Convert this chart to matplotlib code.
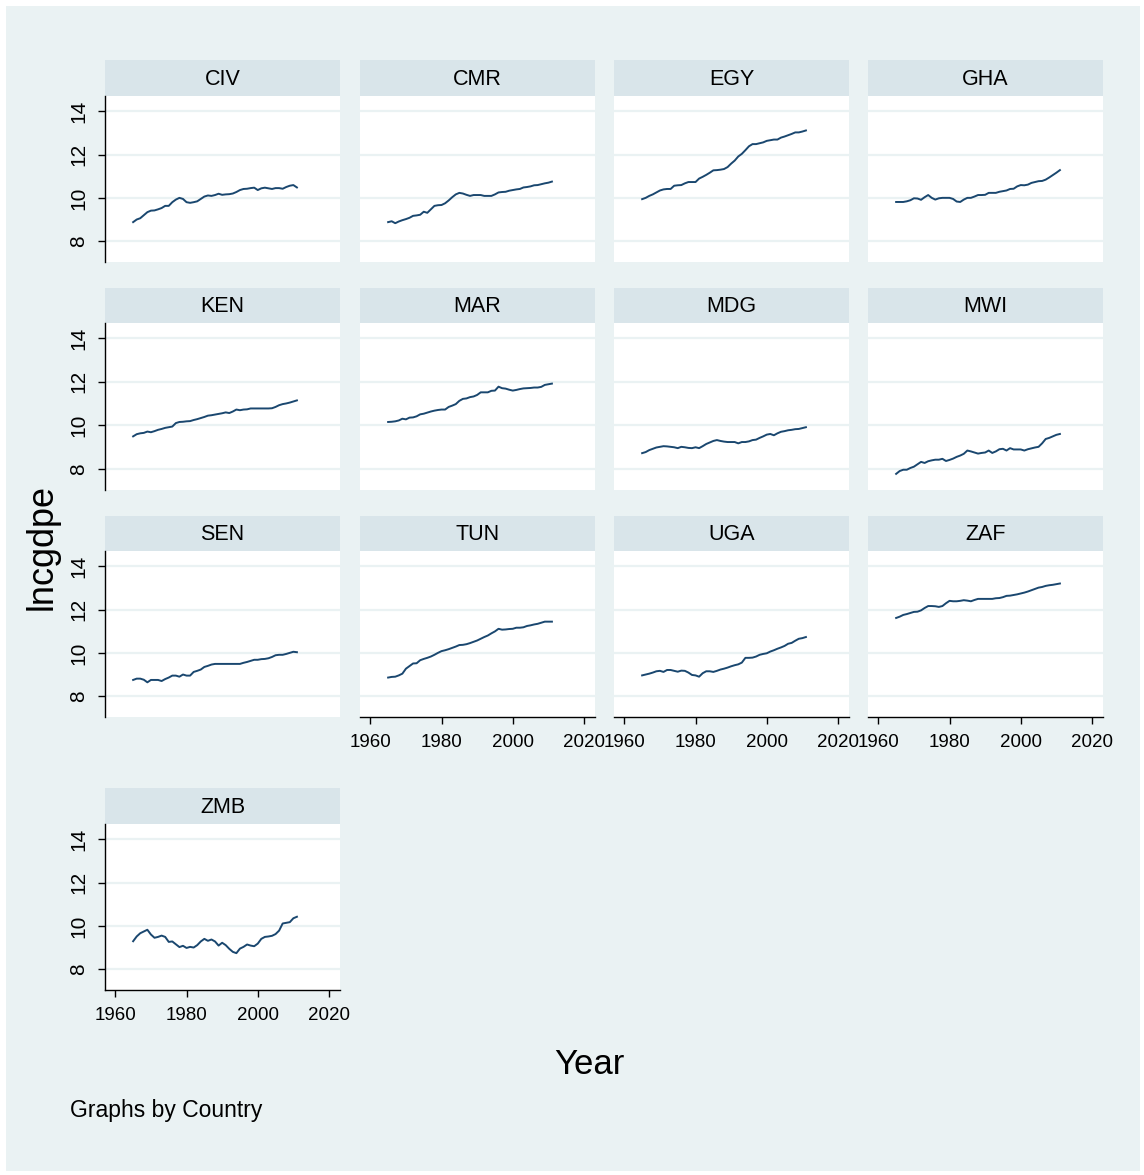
import matplotlib
matplotlib.use("Agg")
import matplotlib.pyplot as plt
from matplotlib.patches import Rectangle

FONT = ['Liberation Sans', 'DejaVu Sans']
BG = '#EAF2F3'
STRIP = '#D9E5EA'
LINE = '#1A476F'

years = list(range(1965, 2012))

countries = ['CIV', 'CMR', 'EGY', 'GHA', 'KEN', 'MAR', 'MDG', 'MWI', 'SEN', 'TUN', 'UGA', 'ZAF', 'ZMB']

civ = [8.88, 9.00, 9.06, 9.20, 9.34, 9.41, 9.42, 9.47, 9.53, 9.63, 9.63, 9.80, 9.92, 10.00, 9.95, 9.80,
       9.77, 9.80, 9.84, 9.95, 10.06, 10.11, 10.09, 10.13, 10.19, 10.14, 10.16, 10.17, 10.20, 10.27, 10.36,
       10.41, 10.42, 10.45, 10.47, 10.36, 10.44, 10.47, 10.44, 10.41, 10.45, 10.45, 10.42, 10.50, 10.56,
       10.59, 10.48]
cmr = [8.88, 8.92, 8.83, 8.91, 8.97, 9.02, 9.08, 9.17, 9.19, 9.22, 9.36, 9.31, 9.47, 9.63, 9.66, 9.67,
       9.75, 9.88, 10.03, 10.16, 10.23, 10.20, 10.14, 10.09, 10.13, 10.13, 10.13, 10.09, 10.09, 10.09, 10.16,
       10.25, 10.27, 10.28, 10.33, 10.36, 10.39, 10.41, 10.48, 10.50, 10.53, 10.58, 10.59, 10.63, 10.67,
       10.70, 10.75]
egy = [9.94, 10.00, 10.09, 10.16, 10.25, 10.34, 10.39, 10.41, 10.41, 10.56, 10.58, 10.59, 10.67, 10.73,
       10.73, 10.73, 10.89, 10.97, 11.06, 11.16, 11.27, 11.28, 11.30, 11.33, 11.42, 11.58, 11.72, 11.91,
       12.03, 12.20, 12.38, 12.48, 12.48, 12.52, 12.56, 12.63, 12.66, 12.69, 12.69, 12.78, 12.83, 12.89,
       12.95, 13.02, 13.02, 13.06, 13.11]
gha = [9.81, 9.81, 9.81, 9.84, 9.89, 9.98, 9.97, 9.91, 10.03, 10.13, 10.00, 9.92, 9.98, 10.00, 10.00,
       10.00, 9.95, 9.83, 9.81, 9.92, 10.00, 10.00, 10.06, 10.13, 10.13, 10.14, 10.23, 10.23, 10.23, 10.28,
       10.31, 10.34, 10.41, 10.42, 10.53, 10.59, 10.58, 10.61, 10.69, 10.73, 10.77, 10.78, 10.84, 10.94,
       11.05, 11.16, 11.28]
ken = [9.50, 9.60, 9.64, 9.66, 9.72, 9.69, 9.74, 9.80, 9.84, 9.89, 9.92, 9.95, 10.11, 10.16, 10.17,
       10.19, 10.20, 10.25, 10.29, 10.34, 10.39, 10.45, 10.47, 10.50, 10.53, 10.56, 10.60, 10.57, 10.64,
       10.73, 10.70, 10.73, 10.74, 10.78, 10.78, 10.78, 10.78, 10.78, 10.78, 10.79, 10.85, 10.93, 10.98,
       11.01, 11.05, 11.10, 11.15]
mar = [10.16, 10.17, 10.19, 10.23, 10.31, 10.28, 10.36, 10.37, 10.42, 10.51, 10.54, 10.59, 10.64, 10.68,
       10.71, 10.73, 10.73, 10.85, 10.91, 10.98, 11.13, 11.22, 11.24, 11.30, 11.33, 11.40, 11.52, 11.52,
       11.52, 11.59, 11.60, 11.78, 11.71, 11.69, 11.64, 11.60, 11.63, 11.67, 11.70, 11.71, 11.72, 11.74,
       11.74, 11.77, 11.86, 11.89, 11.92]
mdg = [8.73, 8.78, 8.87, 8.93, 8.99, 9.02, 9.05, 9.04, 9.02, 9.00, 8.96, 9.02, 9.00, 8.97, 8.96, 9.00,
       8.96, 9.05, 9.15, 9.22, 9.29, 9.33, 9.29, 9.26, 9.24, 9.24, 9.24, 9.18, 9.24, 9.24, 9.27, 9.33, 9.35,
       9.43, 9.50, 9.58, 9.61, 9.55, 9.64, 9.71, 9.74, 9.78, 9.80, 9.83, 9.84, 9.88, 9.92]
mwi = [7.78, 7.91, 7.97, 7.97, 8.05, 8.11, 8.22, 8.33, 8.28, 8.36, 8.40, 8.43, 8.43, 8.47, 8.37, 8.42,
       8.48, 8.56, 8.62, 8.70, 8.85, 8.81, 8.76, 8.71, 8.74, 8.76, 8.85, 8.74, 8.81, 8.91, 8.93, 8.85, 8.96,
       8.90, 8.90, 8.90, 8.85, 8.91, 8.95, 8.99, 9.02, 9.18, 9.38, 9.43, 9.50, 9.57, 9.61]
sen = [8.75, 8.81, 8.81, 8.76, 8.64, 8.75, 8.75, 8.75, 8.70, 8.79, 8.86, 8.95, 8.95, 8.90, 9.00, 8.95,
       8.95, 9.12, 9.17, 9.23, 9.35, 9.40, 9.46, 9.49, 9.49, 9.49, 9.49, 9.49, 9.49, 9.49, 9.49, 9.54, 9.58,
       9.63, 9.68, 9.68, 9.71, 9.72, 9.75, 9.81, 9.89, 9.91, 9.91, 9.95, 10.00, 10.05, 10.03]
tun = [8.86, 8.89, 8.90, 8.96, 9.04, 9.27, 9.39, 9.51, 9.52, 9.66, 9.72, 9.77, 9.83, 9.91, 10.00, 10.08,
       10.12, 10.17, 10.23, 10.29, 10.36, 10.37, 10.40, 10.45, 10.51, 10.57, 10.65, 10.73, 10.80, 10.90,
       10.99, 11.11, 11.07, 11.08, 11.10, 11.11, 11.16, 11.16, 11.18, 11.24, 11.27, 11.31, 11.34, 11.39,
       11.44, 11.44, 11.44]
uga = [8.96, 9.00, 9.04, 9.09, 9.15, 9.17, 9.12, 9.21, 9.21, 9.17, 9.13, 9.18, 9.17, 9.09, 8.98, 8.96,
       8.90, 9.06, 9.15, 9.15, 9.12, 9.17, 9.23, 9.27, 9.32, 9.38, 9.43, 9.47, 9.55, 9.77, 9.77, 9.78, 9.83,
       9.91, 9.95, 9.98, 10.06, 10.12, 10.19, 10.25, 10.32, 10.42, 10.46, 10.56, 10.65, 10.68, 10.73]
zaf = [11.61, 11.67, 11.75, 11.79, 11.84, 11.89, 11.90, 11.96, 12.07, 12.16, 12.16, 12.15, 12.12, 12.16,
       12.29, 12.40, 12.38, 12.38, 12.40, 12.43, 12.41, 12.38, 12.44, 12.49, 12.49, 12.49, 12.49, 12.49,
       12.52, 12.53, 12.57, 12.63, 12.64, 12.67, 12.70, 12.74, 12.78, 12.83, 12.89, 12.95, 13.01, 13.04,
       13.09, 13.12, 13.14, 13.17, 13.20]
zmb = [9.29, 9.51, 9.66, 9.74, 9.82, 9.60, 9.45, 9.49, 9.55, 9.49, 9.26, 9.28, 9.15, 9.02, 9.08, 8.98,
       9.03, 9.00, 9.11, 9.28, 9.40, 9.31, 9.37, 9.28, 9.09, 9.22, 9.11, 8.94, 8.80, 8.74, 8.95, 9.03, 9.14,
       9.09, 9.06, 9.18, 9.40, 9.49, 9.51, 9.54, 9.62, 9.78, 10.11, 10.14, 10.17, 10.35, 10.42]

series = [civ, cmr, egy, gha, ken, mar, mdg, mwi, sen, tun, uga, zaf, zmb]

yticks = [8, 10, 12, 14]
xticks = [1960, 1980, 2000, 2020]

W, H = 1144, 1175
colLeft = [105, 360, 614, 868]
rowStrip = [60, 288, 516, 788]
rowPlot = [(96, 262), (323, 490), (551, 717), (824, 990)]
panelW = 235


def rect(x0, y0, x1, y1):
    return [x0 / W, 1 - y1 / H, (x1 - x0) / W, (y1 - y0) / H]


def drawPanel(fig, idx, name, values):
    row, col = divmod(idx, 4)
    x0 = colLeft[col]
    top, bottom = rowPlot[row]

    strip = fig.add_axes(rect(x0, rowStrip[row], x0 + panelW, top))
    strip.set_facecolor(STRIP)
    strip.set_xticks([])
    strip.set_yticks([])
    for s in strip.spines.values():
        s.set_visible(False)
    strip.text(0.5, 0.47, name, ha='center', va='center', fontsize=15.5, family=FONT, color='black')

    ax = fig.add_axes(rect(x0, top, x0 + panelW, bottom))
    ax.set_facecolor('white')
    ax.plot(years, values, color=LINE, lw=1.4)
    ax.set_xlim(1957.1, 2023.1)
    ax.set_ylim(7.04, 14.7)
    ax.set_yticks(yticks)
    ax.set_xticks(xticks)
    for y in yticks:
        ax.axhline(y, color=BG, lw=1.6, zorder=0)
    for s in ['top', 'right']:
        ax.spines[s].set_visible(False)

    # y axis only on the first column
    if col == 0:
        ax.spines['left'].set_color('black')
        ax.spines['left'].set_linewidth(1.0)
        ax.tick_params(axis='y', length=5, width=1.0, pad=7, labelsize=15)
        for lbl in ax.get_yticklabels():
            lbl.set_rotation(90)
            lbl.set_va('center')
            lbl.set_family(FONT)
    else:
        ax.spines['left'].set_visible(False)
        ax.tick_params(axis='y', left=False, labelleft=False)

    # x axis only on the lowest panel of each column
    if idx >= 9:
        ax.spines['bottom'].set_color('black')
        ax.spines['bottom'].set_linewidth(1.0)
        ax.tick_params(axis='x', length=5, width=1.0, pad=7, labelsize=13.5)
        for lbl in ax.get_xticklabels():
            lbl.set_family(FONT)
    else:
        ax.spines['bottom'].set_visible(False)
        ax.tick_params(axis='x', bottom=False, labelbottom=False)
    return ax


def main():
    fig = plt.figure(figsize=(W / 100, H / 100), dpi=100, facecolor='white')
    fig.patches.append(Rectangle((6 / W, 4 / H), 1 - 10 / W, 1 - 10 / H, transform=fig.transFigure,
                                 facecolor=BG, edgecolor='none', zorder=-10))

    for idx, (name, values) in enumerate(zip(countries, series)):
        drawPanel(fig, idx, name, values)

    fig.text(42 / W, 1 - 547 / H, 'lncgdpe', rotation=90, ha='center', va='center',
             fontsize=26, family=FONT)
    fig.text(589 / W, 1 - 1064 / H, 'Year', ha='center', va='center', fontsize=25, family=FONT)
    fig.text(70 / W, 1 - 1110 / H, 'Graphs by Country', ha='left', va='center', fontsize=16.5, family=FONT)

    fig.savefig('out.png', dpi=100, facecolor='white')
    plt.close(fig)


if __name__ == "__main__":
    main()
